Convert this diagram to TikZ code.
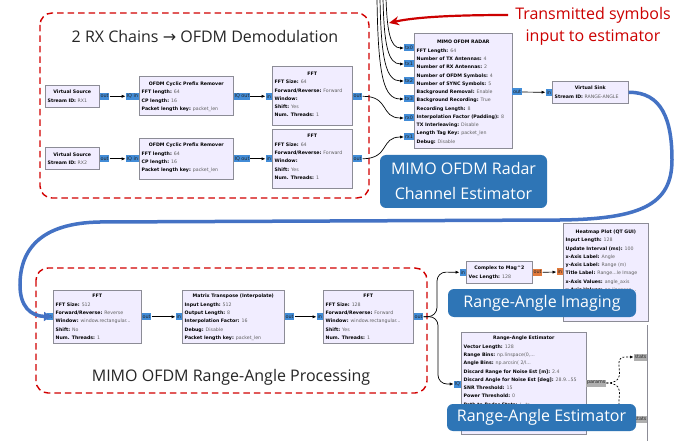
\documentclass[tikz,border=0pt]{standalone}
\usepackage{fontspec}
\setmainfont{Open Sans}
\newfontfamily\blkfont{DejaVu Sans}
\newfontfamily\arrfont{DejaVu Sans}
\usetikzlibrary{arrows.meta,calc}
\definecolor{blkfill}{RGB}{241,237,255}
\definecolor{blkdraw}{RGB}{140,140,150}
\definecolor{valgray}{RGB}{95,95,95}
\definecolor{portblue}{RGB}{66,140,215}
\definecolor{portorange}{RGB}{226,122,60}
\definecolor{portgray}{RGB}{175,175,175}
\definecolor{dashred}{RGB}{210,0,0}
\definecolor{lblblue}{RGB}{46,117,182}
\definecolor{curveblue}{RGB}{68,114,196}
\definecolor{txtred}{RGB}{204,0,0}

\newcommand{\kv}[2]{\textbf{#1:} \textcolor{valgray}{#2}}

\tikzset{
 blk/.style={draw=blkdraw, fill=blkfill, line width=0.6, inner sep=0},
 blktitle/.style={font=\blkfont\fontsize{4.7}{5}\selectfont\bfseries, inner sep=0, anchor=north},
 blkbody/.style={font=\blkfont\fontsize{4.7}{8.25}\selectfont, inner sep=0, align=left, anchor=north west},
 port/.style={font=\blkfont\fontsize{4.9}{5}\selectfont, inner xsep=0.8, inner ysep=0, minimum height=7, text=black!85},
 pblue/.style={port, fill=portblue},
 porange/.style={port, fill=portorange},
 pgray/.style={port, fill=portgray},
 conn/.style={draw=black, line width=0.7, -{Latex[length=4,width=3.2]}},
 msgconn/.style={draw=black, line width=0.7, dash pattern=on 2pt off 1.6pt, -{Latex[length=3.5,width=3]}},
 redbox/.style={draw=dashred, line width=1.4, dash pattern=on 6.5pt off 4pt, rounded corners=12},
 lbl/.style={fill=lblblue, rounded corners=6, text=white, font=\fontsize{16}{21}\selectfont, inner sep=0, align=center},
 grouptitle/.style={font=\fontsize{16}{20}\selectfont, text=black!85, inner sep=0},
}

% name, x, y, w, h, title, body, extra text offset
\newcommand{\grblock}[8]{%
 \node[blk, anchor=north west, minimum width=#4, minimum height=#5] (#1) at (#2,#3) {};
 \node[blktitle] at ($(#1.north)+(0,5+#8)$) {#6};
 \node[blkbody] at ($(#1.north west)+(2.5,13.5+#8)$) {#7};
}

\begin{document}
\begin{tikzpicture}[x=1pt,y=-1pt]
\useasboundingbox[fill=white] (0,0) rectangle (697,441);

% group frames
\draw[redbox] (40,13) rectangle (369,198);
\draw[redbox] (36,268) rectangle (427,393);
\node[grouptitle] (t1) at (205,37) {2 RX Chains {\arrfont →} OFDM Demodulation};
\node[grouptitle] (t2) at (231,377) {MIMO OFDM Range-Angle Processing};

% ---- top row 1
\grblock{vs1}{45}{85}{54}{22}{Virtual Source}{\kv{Stream ID}{RX1}}{0}
\grblock{cp1}{139}{76.5}{94}{39}{OFDM Cyclic Prefix Remover}{\kv{FFT length}{64}\\\kv{CP length}{16}\\\kv{Packet length key}{packet\_len}}{0}
\grblock{fft1}{272}{66.5}{80}{59}{FFT}{\kv{FFT Size}{64}\\\kv{Forward/Reverse}{Forward}\\\textbf{Window:}\\\kv{Shift}{Yes}\\\kv{Num. Threads}{1}}{0}
% ---- top row 2
\grblock{vs2}{45}{147.5}{54}{22}{Virtual Source}{\kv{Stream ID}{RX2}}{0}
\grblock{cp2}{139}{138}{94}{41}{OFDM Cyclic Prefix Remover}{\kv{FFT length}{64}\\\kv{CP length}{16}\\\kv{Packet length key}{packet\_len}}{0}
\grblock{fft2}{272}{129}{80}{59}{FFT}{\kv{FFT Size}{64}\\\kv{Forward/Reverse}{Forward}\\\textbf{Window:}\\\kv{Shift}{Yes}\\\kv{Num. Threads}{1}}{0}

% ---- MIMO radar
\grblock{mimo}{414}{33}{98}{115}{MIMO OFDM RADAR}{\kv{FFT Length}{64}\\\kv{Number of TX Antennas}{4}\\\kv{Number of RX Antennas}{2}\\\kv{Number of OFDM Symbols}{4}\\\kv{Number of SYNC Symbols}{5}\\\kv{Background Removal}{Enable}\\\kv{Background Recording}{True}\\\kv{Recording Length}{8}\\\kv{Interpolation Factor (Padding)}{8}\\\kv{TX Interleaving}{Disable}\\\kv{Length Tag Key}{packet\_len}\\\kv{Debug}{Disable}}{2}
\grblock{vsink}{552}{81}{76}{22}{Virtual Sink}{\kv{Stream ID}{RANGE-ANGLE}}{0}

% ---- bottom row
\grblock{bfft1}{53}{290}{88}{53}{FFT}{\kv{FFT Size}{512}\\\kv{Forward/Reverse}{Reverse}\\\kv{Window}{window.rectangular...}\\\kv{Shift}{No}\\\kv{Num. Threads}{1}}{-1}
\grblock{mt}{182}{290}{102}{53}{Matrix Transpose (Interpolate)}{\kv{Input Length}{512}\\\kv{Output Length}{8}\\\kv{Interpolation Factor}{16}\\\kv{Debug}{Disable}\\\kv{Packet length key}{packet\_len}}{-1}
\grblock{bfft2}{323}{290}{90}{53}{FFT}{\kv{FFT Size}{128}\\\kv{Forward/Reverse}{Forward}\\\kv{Window}{window.rectangular...}\\\kv{Shift}{Yes}\\\kv{Num. Threads}{1}}{-1}
\grblock{cm}{466}{261}{66}{22}{Complex to Mag\textasciicircum 2}{\kv{Vec Length}{128}}{0}
\grblock{hm}{563}{223}{85}{98}{Heatmap Plot (QT GUI)}{\kv{Input Length}{128}\\\kv{Update Interval (ms)}{100}\\\kv{x-Axis Label}{Angle}\\\kv{y-Axis Label}{Range (m)}\\\kv{Title Label}{Range...le Image}\\\kv{x-Axis Values}{angle\_axis}\\\kv{y-Axis Values}{np.linspace...}}{1.5}
\grblock{rae}{461}{332}{125}{102}{Range-Angle Estimator}{\kv{Vector Length}{128}\\\kv{Range Bins}{np.linspace(0,...}\\\kv{Angle Bins}{np.arcsin( 2/l...}\\\kv{Discard Range for Noise Est [m]}{2.4}\\\kv{Discard Angle for Noise Est [deg]}{28.9...55}\\\kv{SNR Threshold}{15}\\\kv{Power Threshold}{0}\\\kv{Path to Radar Stats}{/...ts}}{-1}
\draw[blkdraw, line width=0.6] (647.5,325) -- (647.5,441);

% ---- ports
\node[pblue, anchor=west] (vs1o) at (vs1.east) {out};
\node[pblue, anchor=east] (cp1i) at (cp1.west) {IQ in};
\node[pblue, anchor=west] (cp1o) at (cp1.east) {IQ out};
\node[pblue, anchor=east] (fft1i) at (fft1.west) {in};
\node[pblue, anchor=west] (fft1o) at (fft1.east) {out};
\node[pblue, anchor=west] (vs2o) at (vs2.east) {out};
\node[pblue, anchor=east] (cp2i) at (cp2.west) {IQ in};
\node[pblue, anchor=west] (cp2o) at (cp2.east) {IQ out};
\node[pblue, anchor=east] (fft2i) at (fft2.west) {in};
\node[pblue, anchor=west] (fft2o) at (fft2.east) {out};
\node[pblue, anchor=east] (tx0) at (414,48) {tx0};
\node[pblue, anchor=east] (tx1) at (414,64) {tx1};
\node[pblue, anchor=east] (tx2) at (414,81) {tx2};
\node[pblue, anchor=east] (tx3) at (414,99) {tx3};
\node[pblue, anchor=east] (rx0) at (414,118) {rx0};
\node[pblue, anchor=east] (rx1) at (414,137) {rx1};
\node[pblue, anchor=west] (mimoo) at (512,92) {out};
\node[pblue, anchor=east] (vsinki) at (vsink.west) {in};
\node[pblue, anchor=east] (bfft1i) at (bfft1.west) {in};
\node[pblue, anchor=west] (bfft1o) at (bfft1.east) {out};
\node[pblue, anchor=east] (mti) at (mt.west) {in};
\node[pblue, anchor=west] (mto) at (mt.east) {out};
\node[pblue, anchor=east] (bfft2i) at (bfft2.west) {in};
\node[pblue, anchor=west] (bfft2o) at (bfft2.east) {out};
\node[pblue, anchor=east] (cmi) at (cm.west) {in};
\node[porange, anchor=west] (cmo) at (cm.east) {out};
\node[porange, anchor=east] (hmi) at (563,272) {in};
\node[pblue, anchor=east] (raei) at (461,384) {IQ};
\node[pgray, anchor=west] (params) at (586,383) {params};
\node[pgray, anchor=east] (stats1) at (647.5,357) {stats};
\node[pgray, anchor=east] (stats2) at (647.5,419) {stats};

% ---- connections
\draw[conn] (vs1o) -- (cp1i);
\draw[conn] (cp1o) -- (fft1i);
\draw[conn] (vs2o) -- (cp2i);
\draw[conn] (cp2o) -- (fft2i);
\draw[conn] (fft1o.east) .. controls (390,96) and (380,118) .. (rx0.west);
\draw[conn] (fft2o.east) .. controls (390,158.5) and (380,137) .. (rx1.west);
\coordinate (in0) at (386,-2);
\coordinate (in1) at (383,-2);
\coordinate (in2) at (380,-2);
\coordinate (in3) at (377,-2);
\draw[conn] (in0) .. controls (387,30) and (390,48) .. (tx0.west);
\draw[conn] (in1) .. controls (384,45) and (388,64) .. (tx1.west);
\draw[conn] (in2) .. controls (381,60) and (386,81) .. (tx2.west);
\draw[conn] (in3) .. controls (378,78) and (384,99) .. (tx3.west);
\draw[conn] (mimoo) -- (vsinki);
\draw[conn] (bfft1o) -- (mti);
\draw[conn] (mto) -- (bfft2i);
\draw[conn] (cmo) -- (hmi);
\draw[conn, rounded corners=9] (bfft2o.east) -- (437,316.5) -- (437,272) -- (cmi.west);
\draw[conn, rounded corners=9] (bfft2o.east) -- (438,316.5) -- (438,384) -- (raei.west);
\draw[msgconn] (params.east) .. controls (625,383) and (618,370) .. (619,362) .. controls (620,356) and (624,357) .. (stats1.west);
\draw[msgconn] (params.east) .. controls (625,383) and (618,396) .. (619,405) .. controls (620,417) and (624,419) .. (stats2.west);

% ---- big blue feedback curve
\draw[curveblue, line width=3.5, -{Latex[length=9,width=10]}] (vsink.east) .. controls (662,92) and (672,120) .. (672,160) .. controls (672,205) and (640,219) .. (560,220) -- (100,222) .. controls (40,223) and (20,250) .. (20,285) .. controls (20,306) and (30,316) .. (bfft1i.east);

% ---- red annotation
\node[text=txtred, font=\fontsize{16}{22}\selectfont, align=center, inner sep=0] (txnote) at (593,26) {Transmitted symbols\\input to estimator};
\coordinate (arrowstart) at (508,15);
\draw[txtred, line width=2.2, -{Stealth[length=10,width=9]}] (arrowstart) .. controls (470,15) and (420,16) .. (389,23);

% ---- blue labels
\node[lbl, font=\fontsize{16}{25}\selectfont, minimum width=167, minimum height=53] (l1) at (463.5,181.5) {MIMO OFDM Radar\\Channel Estimator};
\node[lbl, minimum width=188, minimum height=28] (l2) at (542,303) {Range-Angle Imaging};
\node[lbl, minimum width=189, minimum height=27] (l3) at (541.5,417.5) {Range-Angle Estimator};
\end{tikzpicture}
\end{document}
